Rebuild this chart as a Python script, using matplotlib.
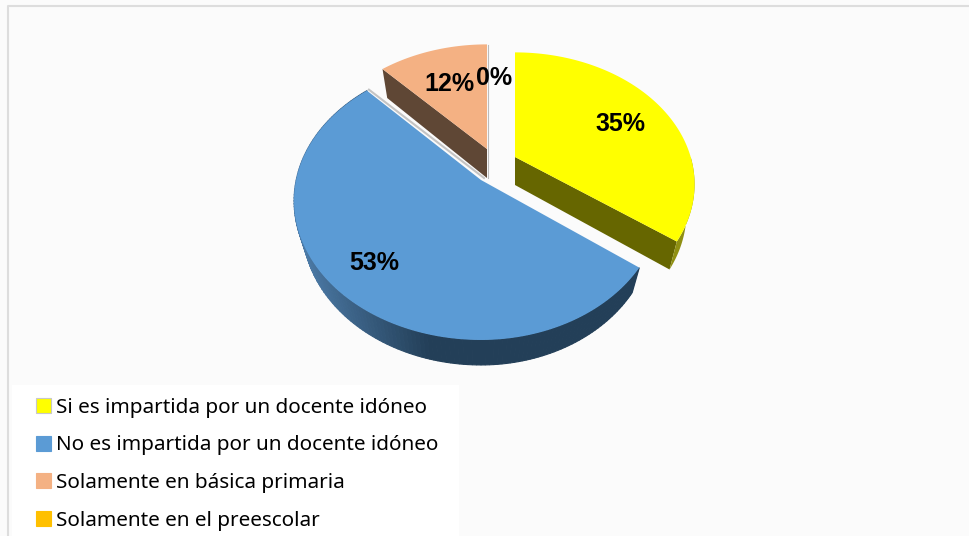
import numpy as np
import matplotlib
matplotlib.use('Agg')
import matplotlib.pyplot as plt
from matplotlib.patches import Patch, Rectangle

# values of the chart
labels = ['Si es impartida por un docente idóneo', 'No es impartida por un docente idóneo',
          'Solamente en básica primaria', 'Solamente en el preescolar']
values = [35, 53, 12, 0]
colors = ['#ffff00', '#5b9bd5', '#f4b183', '#ffc000']


# camera for the fake 3D pie, works in pixels of the picture
apex = {0: (515, 157), 1: (481, 180), 2: (487, 149)}
radius = 183
tilt = {0: 0.69, 1: 0.743, 2: 0.69}
persp = {0: 0.207, 1: 0.15, 2: 0.207}
depth = {0: 28, 1: 25, 2: 29}
# horizontal stretch of each slice (left of apex, right of apex)
stretch = {0: (1.0, 0.96), 1: (1.01, 0.975), 2: (0.96, 1.0)}
shrink = 0.045


def rim(i, theta):
    # theta in degrees, clockwise from the top
    t = np.radians(theta)
    d = 1 + persp[i] * np.cos(t)
    s = np.where(np.sin(t) < 0, stretch[i][0], stretch[i][1])
    return apex[i][0] + s * radius * np.sin(t) / d, apex[i][1] - tilt[i] * radius * np.cos(t) / d


def low(i, x):
    # lower edge of the wall moves a bit to the middle of the slice
    return apex[i][0] + (x - apex[i][0]) * (1 - shrink)


def slice_angles(i):
    total = sum(values)
    start = sum(values[:i]) / total * 360
    return start, start + values[i] / total * 360


def top_face(i, color):
    a, b = slice_angles(i)
    x, y = rim(i, np.linspace(a, b, 200))
    ax.fill(np.r_[apex[i][0], x], np.r_[apex[i][1], y], color=color, lw=0, zorder=4)


def radial_side(i, theta, color):
    x, y = rim(i, theta)
    ax0, ay0 = apex[i]
    ax.fill([ax0, x, low(i, x), ax0], [ay0, y, y + depth[i], ay0 + depth[i]], color=color, lw=0, zorder=3)


fig = plt.figure(figsize=(9.69, 5.36), dpi=100, facecolor='#fbfbfb')
ax = fig.add_axes([0, 0, 1, 1])
ax.set_xlim(0, 969)
ax.set_ylim(536, 0)
ax.axis('off')

# outer chart border
ax.plot([8, 8, 969], [536, 6, 6], color='#dddddd', lw=1.5, zorder=1)
ax.add_patch(Rectangle((12, 385), 447, 151, color='white', lw=0, zorder=1))

# salmon slice
start, end = slice_angles(2)
radial_side(2, start, '#5f4735')
top_face(2, colors[2])
ax.plot([apex[2][0] + 1, apex[2][0] + 1], [apex[2][1] - 104, apex[2][1] + depth[2]], color='#bbbbbb', lw=0.8, zorder=3)

# yellow slice
start, end = slice_angles(0)
radial_side(0, end, '#666600')
th = np.linspace(start + 90, end, 60)
x, y = rim(0, th)
ax.fill(np.r_[x, low(0, x[::-1])], np.r_[y, y[::-1] + depth[0]], color='#8f8f12', lw=0, zorder=3)
top_face(0, colors[0])

# blue slice, outer wall gets darker to the right
start, end = slice_angles(1)
th = np.linspace(start, end, 160)
x, y = rim(1, th)
dark = np.array(matplotlib.colors.to_rgb('#233f58'))
light = np.array(matplotlib.colors.to_rgb('#4c7aa6'))
for j in range(len(th) - 1):
    f = np.clip((x[j] - 300) / 130, 0, 1)
    c = light * (1 - f) + dark * f
    ax.fill([x[j], x[j + 1], low(1, x[j + 1]), low(1, x[j])],
            [y[j], y[j + 1], y[j + 1] + depth[1], y[j] + depth[1]], color=c, lw=0.8, zorder=3)
top_face(1, colors[1])
# soft shadow along the upper edge of the blue slice
ex, ey = rim(1, end)
ax.plot([ex + 2, apex[1][0] + 3], [ey - 1, apex[1][1] - 2], color='#c4c4c4', lw=1.5, zorder=3.5)

# percentage labels
font = dict(family='Liberation Sans', fontweight='bold', fontsize=18, color='black',
            ha='center', va='center', zorder=6)
ax.text(620, 124, '%d%%' % values[0], **font)
ax.text(374, 263, '%d%%' % values[1], **font)
ax.text(449, 84, '%d%%' % values[2], **font)
ax.text(494, 78, '%d%%' % values[3], **font)

handles = [Patch(facecolor=c, edgecolor='#c8c8c8' if i == 0 else c, lw=0.8) for i, c in enumerate(colors)]
leg = ax.legend(handles, labels, loc='upper left', bbox_to_anchor=(19 / 969, 1 - 381 / 536),
                frameon=False, prop={'family': 'Noto Sans', 'size': 14.9}, labelspacing=0.86,
                handlelength=0.73, handleheight=0.73, handletextpad=0.24, borderpad=0.3)
leg.set_zorder(5)

fig.savefig('out.png', dpi=100, facecolor=fig.get_facecolor())
